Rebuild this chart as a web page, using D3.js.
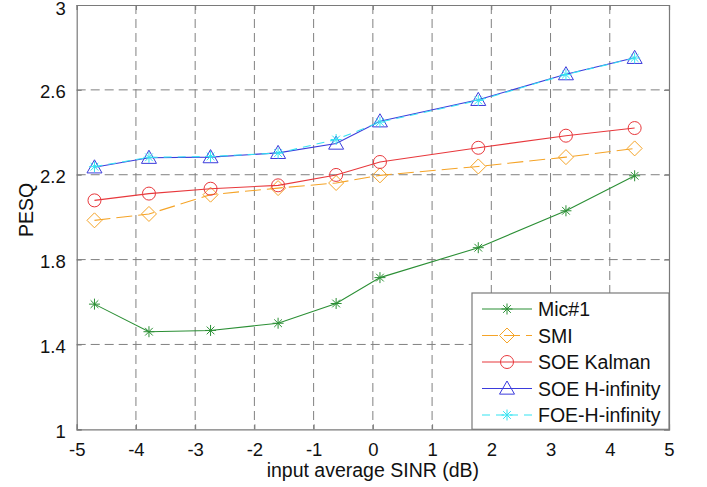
<!DOCTYPE html>
<html>
<head>
<meta charset="utf-8">
<script src="https://cdn.jsdelivr.net/npm/d3@7"></script>
<style>
  html, body { margin: 0; padding: 0; background: #fff; }
  svg { display: block; font-family: "Liberation Sans", Arial, Helvetica, sans-serif; }
</style>
</head>
<body>
<svg id="chart" width="707" height="487"></svg>
<script>
// ---- data ----
const sinr = [-4.7, -3.78, -2.74, -1.6, -0.62, 0.12, 1.78, 3.26, 4.42];
const mic1 = [1.59, 1.46, 1.466, 1.50, 1.593, 1.715, 1.856, 2.03, 2.195];
const smi = [1.985, 2.015, 2.106, 2.137, 2.161, 2.197, 2.239, 2.283, 2.324];
const soeKalman = [2.079, 2.111, 2.134, 2.15, 2.199, 2.26, 2.327, 2.384, 2.42];
const soeHinf = [2.235, 2.28, 2.283, 2.303, 2.347, 2.452, 2.553, 2.674, 2.751];
const foeHinf = [2.238, 2.282, 2.286, 2.302, 2.366, 2.448, 2.55, 2.672, 2.75];
const seriesNames = ["Mic#1", "SMI", "SOE Kalman", "SOE H-infinity", "FOE-H-infinity"];
const xTicks = [-5, -4, -3, -2, -1, 0, 1, 2, 3, 4, 5];
const xTickLabels = ["-5", "-4", "-3", "-2", "-1", "0", "1", "2", "3", "4", "5"];
const yTicks = [1, 1.4, 1.8, 2.2, 2.6, 3];
const yTickLabels = ["1", "1.4", "1.8", "2.2", "2.6", "3"];
const xLabel = "input average SINR (dB)";
const yLabel = "PESQ";

const seriesData = [mic1, smi, soeKalman, soeHinf, foeHinf];
const styles = [
  { color: "#2b8f35", dash: null, marker: "star" },
  { color: "#f5a428", dash: "16,6", marker: "diamond" },
  { color: "#e8383c", dash: null, marker: "circle" },
  { color: "#3b3bdc", dash: null, marker: "triangle" },
  { color: "#35e3f2", dash: "8,6", marker: "star" }
];

// ---- layout ----
const svg = d3.select("#chart");
const L = 76.7, T = 5, R = 669, B = 429.3;
const x = d3.scaleLinear().domain([-5, 5]).range([L, R]);
const y = d3.scaleLinear().domain([1, 3]).range([B, T]);

// grid
const grid = svg.append("g");
grid.selectAll("line.gx").data(xTicks.slice(1, -1)).join("line")
  .attr("x1", d => x(d)).attr("x2", d => x(d)).attr("y1", T).attr("y2", B)
  .attr("stroke", "#808080").attr("stroke-width", 1).attr("stroke-dasharray", "9,5");
grid.selectAll("line.gy").data(yTicks.slice(1, -1)).join("line")
  .attr("x1", L).attr("x2", R).attr("y1", d => y(d)).attr("y2", d => y(d))
  .attr("stroke", "#808080").attr("stroke-width", 1).attr("stroke-dasharray", "9,5");

// axes
const xAxis = d3.axisBottom(x).tickValues(xTicks).tickSize(-5).tickPadding(15)
  .tickFormat((d, i) => xTickLabels[i]);
const gx = svg.append("g").attr("transform", `translate(0,${B})`).call(xAxis);
const yAxis = d3.axisLeft(y).tickValues(yTicks).tickSize(-5).tickPadding(11)
  .tickFormat((d, i) => yTickLabels[i]);
const gy = svg.append("g").attr("transform", `translate(${L},0)`).call(yAxis);
[gx, gy].forEach(g => {
  g.select(".domain").attr("stroke", "#7a7a7a").attr("stroke-width", 1.2);
  g.selectAll(".tick line").attr("stroke", "#7a7a7a");
  g.selectAll(".tick text").attr("fill", "#111").style("font-size", "18.5px");
});
gx.selectAll(".tick text").attr("dy", "0.62em");
gy.selectAll(".tick text").attr("dy", (d, i) => i === yTicks.length - 1 ? "0.52em" : "0.42em");
// top & right box
const xTop = d3.axisTop(x).tickValues(xTicks).tickSize(-5).tickFormat("");
const gxt = svg.append("g").attr("transform", `translate(0,${T})`).call(xTop);
const yRight = d3.axisRight(y).tickValues(yTicks).tickSize(-5).tickFormat("");
const gyr = svg.append("g").attr("transform", `translate(${R},0)`).call(yRight);
[gxt, gyr].forEach(g => {
  g.select(".domain").attr("stroke", "#7a7a7a").attr("stroke-width", 1.2);
  g.selectAll(".tick line").attr("stroke", "#7a7a7a");
});

// labels
svg.append("text").attr("x", (L + R) / 2).attr("y", 477).attr("text-anchor", "middle")
  .style("font-size", "19.5px").attr("fill", "#111").text(xLabel);
svg.append("text").attr("transform", `translate(33,210) rotate(-90)`).attr("text-anchor", "middle")
  .style("font-size", "19.5px").attr("fill", "#111").text(yLabel);

// markers
function drawMarker(g, type, cx, cy, color) {
  if (type === "circle") {
    g.append("circle").attr("cx", cx).attr("cy", cy).attr("r", 6.5)
      .attr("fill", "none").attr("stroke", color).attr("stroke-width", 1);
  } else if (type === "diamond") {
    const s = 7.5;
    g.append("path").attr("d", `M${cx},${cy - s}L${cx + s},${cy}L${cx},${cy + s}L${cx - s},${cy}Z`)
      .attr("fill", "none").attr("stroke", color).attr("stroke-width", 1);
  } else if (type === "triangle") {
    const s = 7.5;
    g.append("path").attr("d", `M${cx},${cy - s}L${cx + s},${cy + s * 0.75}L${cx - s},${cy + s * 0.75}Z`)
      .attr("fill", "none").attr("stroke", color).attr("stroke-width", 1);
  } else if (type === "star") {
    const s = 5.5;
    const d = [[0, -s, 0, s], [-s, 0, s, 0], [-s * 0.7, -s * 0.7, s * 0.7, s * 0.7], [-s * 0.7, s * 0.7, s * 0.7, -s * 0.7]]
      .map(p => `M${cx + p[0]},${cy + p[1]}L${cx + p[2]},${cy + p[3]}`).join("");
    g.append("path").attr("d", d).attr("stroke", color).attr("stroke-width", 1).attr("fill", "none");
  }
}

const line = d3.line().x((d, i) => x(sinr[i])).y(d => y(d));
seriesData.forEach((vals, si) => {
  const st = styles[si];
  const g = svg.append("g");
  g.append("path").attr("d", line(vals)).attr("fill", "none")
    .attr("stroke", st.color).attr("stroke-width", 1.1)
    .attr("stroke-dasharray", st.dash);
  vals.forEach((v, i) => drawMarker(g, st.marker, x(sinr[i]), y(v), st.color));
});

// legend
const lg = svg.append("g");
const lx0 = 472, ly0 = 293;
lg.append("rect").attr("x", lx0).attr("y", ly0).attr("width", R - lx0).attr("height", B - ly0)
  .attr("fill", "#fff").attr("stroke", "#7a7a7a").attr("stroke-width", 1.2);
seriesNames.forEach((name, i) => {
  const st = styles[i];
  const cy = 309 + i * 26.5;
  lg.append("line").attr("x1", 482).attr("x2", 532).attr("y1", cy).attr("y2", cy)
    .attr("stroke", st.color).attr("stroke-width", 1.1).attr("stroke-dasharray", st.dash);
  drawMarker(lg, st.marker, 507, cy, st.color);
  lg.append("text").attr("x", 538).attr("y", cy).attr("dy", "0.36em")
    .style("font-size", "19.5px").attr("fill", "#111").text(name);
});
</script>
</body>
</html>
